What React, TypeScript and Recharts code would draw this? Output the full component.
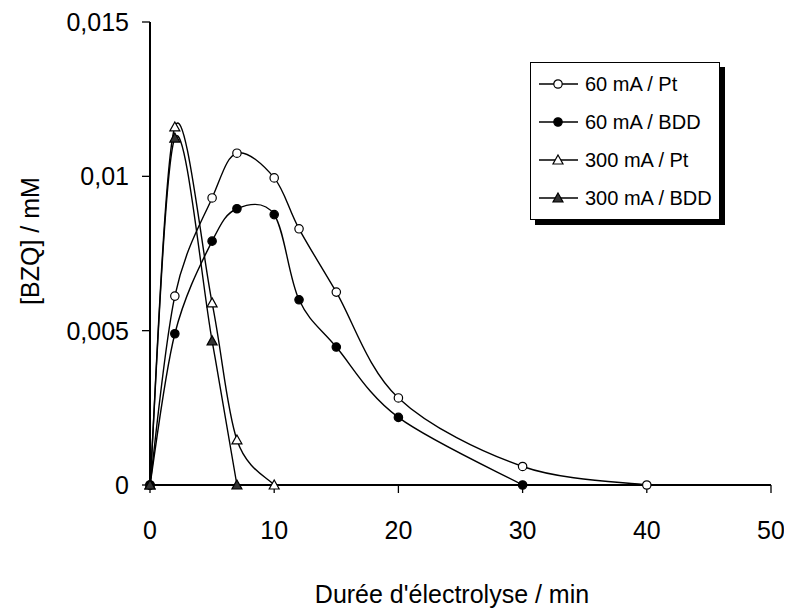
import { LineChart, Line, XAxis, YAxis, Legend, Label } from 'recharts';

// time in minutes
const pt60Time = [0, 2, 5, 7, 10, 12, 15, 20, 30, 40];
const pt60Conc = [0, 0.00612, 0.0093, 0.01075, 0.00995, 0.0083, 0.00625, 0.00282, 0.0006, 0];

const bdd60Time = [0, 2, 5, 7, 10, 12, 15, 20, 30];
const bdd60Conc = [0, 0.0049, 0.0079, 0.00895, 0.00876, 0.006, 0.00447, 0.00219, 0];

const pt300Time = [0, 2, 5, 7, 10];
const pt300Conc = [0, 0.0116, 0.0059, 0.00146, 0];

const bdd300Time = [0, 2, 5, 7];
const bdd300Conc = [0, 0.01124, 0.00467, 0];

const xTicks = [0, 10, 20, 30, 40, 50];
const yTicks = [0, 0.005, 0.01, 0.015];

const FONT = '"Liberation Sans", Arial, sans-serif';

const toPoints = (xs: number[], ys: number[]) => xs.map((x, i) => ({ x, y: ys[i] }));

type Shape = 'circle' | 'triangle';

const series: { name: string; data: { x: number; y: number }[]; shape: Shape; fill: string }[] = [
  { name: '60 mA / Pt', data: toPoints(pt60Time, pt60Conc), shape: 'circle', fill: '#fff' },
  { name: '60 mA / BDD', data: toPoints(bdd60Time, bdd60Conc), shape: 'circle', fill: '#000' },
  { name: '300 mA / Pt', data: toPoints(pt300Time, pt300Conc), shape: 'triangle', fill: '#fff' },
  { name: '300 mA / BDD', data: toPoints(bdd300Time, bdd300Conc), shape: 'triangle', fill: '#333' },
];

// Excel-like smoothed line (uniform Catmull-Rom as cubic beziers)
function excelSmooth(context: any) {
  let pts: number[][] = [];
  return {
    areaStart() {},
    areaEnd() {},
    lineStart() {
      pts = [];
    },
    point(x: number, y: number) {
      pts.push([+x, +y]);
    },
    lineEnd() {
      if (!pts.length) return;
      context.moveTo(pts[0][0], pts[0][1]);
      for (let i = 0; i < pts.length - 1; i++) {
        const p0 = pts[i - 1] || pts[i];
        const p1 = pts[i];
        const p2 = pts[i + 1];
        const p3 = pts[i + 2] || p2;
        context.bezierCurveTo(
          p1[0] + (p2[0] - p0[0]) / 6,
          p1[1] + (p2[1] - p0[1]) / 6,
          p2[0] - (p3[0] - p1[0]) / 6,
          p2[1] - (p3[1] - p1[1]) / 6,
          p2[0],
          p2[1],
        );
      }
    },
  };
}

function Marker({ cx, cy, shape, fill }: { cx: number; cy: number; shape: Shape; fill: string }) {
  if (shape === 'circle') {
    return <circle cx={cx} cy={cy} r={4.2} fill={fill} stroke="#000" strokeWidth={1.2} />;
  }
  const s = 5;
  return (
    <polygon
      points={`${cx},${cy - s} ${cx + s},${cy + s * 0.8} ${cx - s},${cy + s * 0.8}`}
      fill={fill}
      stroke="#000"
      strokeWidth={1.2}
      strokeLinejoin="miter"
    />
  );
}

function LegendBox() {
  return (
    <div style={{ position: 'relative', width: 190, height: 158 }}>
      <div
        style={{
          position: 'absolute', left: 5, top: 5, width: 190, height: 158, background: '#000',
        }}
      />
      <div
        style={{
          position: 'absolute', left: 0, top: 0, width: 188, height: 156,
          background: '#fff', border: '1px solid #000',
        }}
      >
        {series.map((s, i) => (
          <div
            key={s.name}
            style={{
              position: 'absolute', left: 0, top: 21 + i * 38 - 14, height: 28,
              display: 'flex', alignItems: 'center',
            }}
          >
            <svg width={50} height={28} style={{ marginLeft: 7 }}>
              <line x1={1} x2={40} y1={14} y2={14} stroke="#000" strokeWidth={1.3} />
              <Marker cx={20} cy={14} shape={s.shape} fill={s.fill} />
            </svg>
            <span style={{ fontFamily: FONT, fontSize: 20, color: '#000', marginLeft: -3, whiteSpace: 'nowrap' }}>
              {s.name}
            </span>
          </div>
        ))}
      </div>
    </div>
  );
}

export default function App() {
  return (
    <div style={{ width: 784, height: 601, background: '#fff' }}>
      <LineChart
        width={784}
        height={601}
        margin={{ top: 14, right: 21, left: 0, bottom: 0 }}
        style={{ fontFamily: FONT }}
      >
        <XAxis
          dataKey="x"
          type="number"
          domain={[0, 50]}
          ticks={xTicks}
          height={124}
          allowDuplicatedCategory={false}
          axisLine={{ stroke: '#000', strokeWidth: 2 }}
          tickLine={{ stroke: '#000', strokeWidth: 1.3 }}
          tickSize={8}
          tickMargin={28}
          tick={{ fill: '#000', fontSize: 25, fontFamily: FONT }}
        >
          <Label
            content={() => (
              <text x={444} y={595} textAnchor="middle" fontSize={25} fontFamily={FONT} fill="#000">
                Durée d'électrolyse / min
              </text>
            )}
          />
        </XAxis>
        <YAxis
          type="number"
          domain={[0, 0.015]}
          ticks={yTicks}
          width={142}
          axisLine={{ stroke: '#000', strokeWidth: 2 }}
          tickLine={{ stroke: '#000', strokeWidth: 1.3 }}
          tickSize={8}
          tickMargin={13}
          tick={{ fill: '#000', fontSize: 25, fontFamily: FONT }}
          tickFormatter={(v: number) => String(v).replace('.', ',')}
        >
          <Label
            content={() => (
              <text
                x={22}
                y={233}
                textAnchor="middle"
                dominantBaseline="central"
                transform="rotate(-90 22 233)"
                fontSize={25}
                fontFamily={FONT}
                fill="#000"
              >
                [BZQ] / mM
              </text>
            )}
          />
        </YAxis>
        <Legend
          layout="vertical"
          align="center"
          verticalAlign="middle"
          wrapperStyle={{ left: 522, top: 54, width: 196, height: 164 }}
          content={() => <LegendBox />}
        />
        {series.map((s) => (
          <Line
            key={s.name}
            name={s.name}
            data={s.data}
            dataKey="y"
            type={excelSmooth as any}
            stroke="#000"
            strokeWidth={1.4}
            isAnimationActive={false}
            dot={(p: any) => (
              <Marker key={`${s.name}-${p.index}`} cx={p.cx} cy={p.cy} shape={s.shape} fill={s.fill} />
            )}
            activeDot={false}
          />
        ))}
      </LineChart>
    </div>
  );
}
